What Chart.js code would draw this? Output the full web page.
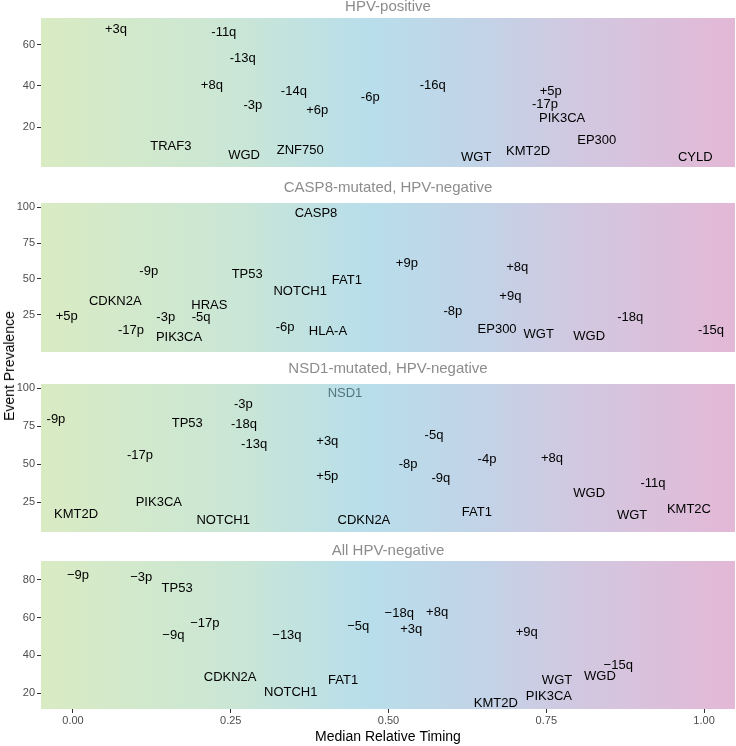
<!DOCTYPE html>
<html>
<head>
<meta charset="utf-8">
<script src="https://cdn.jsdelivr.net/npm/chart.js@4.4.1/dist/chart.umd.min.js"></script>
<style>
  body { margin: 0; background: #fff; }
  #wrap { position: relative; width: 736px; height: 746px; overflow: hidden; font-family: "Liberation Sans", Arial, sans-serif; }
  .panel { position: absolute; left: 0; }
  #ylab { position: absolute; left: 9px; top: 366px; transform: translate(-50%, -50%) rotate(-90deg); font-size: 14px; color: #000; white-space: nowrap; }
</style>
</head>
<body>
<div id="wrap">
  <canvas class="panel" id="p1" width="736" height="168" style="top:-1px"></canvas>
  <canvas class="panel" id="p2" width="736" height="172" style="top:180px"></canvas>
  <canvas class="panel" id="p3" width="736" height="171" style="top:361px"></canvas>
  <canvas class="panel" id="p4" width="736" height="203" style="top:543px"></canvas>
  <div id="ylab">Event Prevalence</div>
</div>
<script>
// panel titles
const panelTitles = ["HPV-positive", "CASP8-mutated, HPV-negative", "NSD1-mutated, HPV-negative", "All HPV-negative"];

// HPV-positive
const hpvPosEvents = ["+3q", "-11q", "-13q", "+8q", "-3p", "-14q", "+6p", "-6p", "TRAF3", "WGD", "ZNF750",
  "-16q", "+5p", "-17p", "PIK3CA", "EP300", "KMT2D", "WGT", "CYLD"];
const hpvPosTiming = [0.068, 0.239, 0.269, 0.220, 0.285, 0.350, 0.387, 0.471, 0.155, 0.271, 0.360,
  0.570, 0.757, 0.748, 0.775, 0.830, 0.721, 0.639, 0.986];
const hpvPosPrev = [67.6, 65.7, 53.1, 40.5, 30.8, 37.6, 28.1, 34.7, 10.9, 6.3, 8.7,
  40.5, 37.6, 31.3, 24.5, 13.8, 8.5, 5.5, 5.5];

// CASP8-mutated, HPV-negative
const casp8Events = ["CASP8", "-9p", "TP53", "NOTCH1", "FAT1", "CDKN2A", "HRAS", "+5p", "-3p", "-5q", "-17p",
  "PIK3CA", "-6p", "HLA-A", "+9p", "+8q", "+9q", "-8p", "EP300", "WGT", "WGD", "-18q", "-15q"];
const casp8Timing = [0.385, 0.120, 0.276, 0.360, 0.434, 0.067, 0.216, -0.010, 0.147, 0.203, 0.092,
  0.168, 0.336, 0.404, 0.529, 0.704, 0.693, 0.602, 0.672, 0.738, 0.818, 0.883, 1.011];
const casp8Prev = [96.0, 55.5, 53.4, 41.6, 49.2, 34.6, 31.8, 24.1, 23.4, 23.4, 14.3,
  9.4, 16.4, 13.6, 61.1, 58.3, 38.0, 27.6, 15.0, 11.5, 10.1, 23.4, 14.3];

// NSD1-mutated, HPV-negative
const nsd1Events = ["NSD1", "-3p", "-9p", "TP53", "-18q", "-13q", "+3q", "-17p", "+5p", "PIK3CA", "KMT2D",
  "NOTCH1", "CDKN2A", "-5q", "-8p", "-9q", "-4p", "+8q", "FAT1", "WGD", "-11q", "WGT", "KMT2C"];
const nsd1Timing = [0.431, 0.270, -0.027, 0.181, 0.271, 0.287, 0.403, 0.106, 0.403, 0.136, 0.005,
  0.238, 0.461, 0.572, 0.531, 0.583, 0.656, 0.759, 0.640, 0.818, 0.919, 0.886, 0.976];
const nsd1Prev = [96.3, 89.7, 79.8, 77.2, 76.5, 63.4, 65.3, 56.1, 42.3, 25.2, 17.3,
  13.4, 13.4, 69.3, 50.2, 41.0, 53.3, 54.0, 18.6, 31.1, 37.7, 16.6, 20.6];

// All HPV-negative
const allNegEvents = ["\u22129p", "\u22123p", "TP53", "\u221217p", "\u22129q", "\u221213q", "\u22125q", "CDKN2A", "NOTCH1", "FAT1",
  "\u221218q", "+8q", "+3q", "+9q", "\u221215q", "WGD", "WGT", "PIK3CA", "KMT2D"];
const allNegTiming = [0.008, 0.108, 0.165, 0.209, 0.159, 0.339, 0.452, 0.249, 0.345, 0.428,
  0.517, 0.577, 0.536, 0.719, 0.864, 0.835, 0.767, 0.754, 0.670];
const allNegPrev = [82.3, 81.2, 75.4, 57.0, 50.7, 50.7, 55.4, 28.5, 20.6, 26.9,
  62.3, 62.8, 53.8, 52.2, 34.9, 29.1, 26.9, 18.5, 14.9];

// axes
const xTicks = [0, 0.25, 0.5, 0.75, 1];
const xRange = [-0.0507, 1.049];
const hpvPosYTicks = [20, 40, 60];
const casp8YTicks = [25, 50, 75, 100];
const nsd1YTicks = [25, 50, 75, 100];
const allNegYTicks = [20, 40, 60, 80];
const yRanges = [[0.8, 72.9], [-1.0, 103.0], [5.5, 102.8], [11.7, 89.8]];

const FONT = '"Liberation Sans", Arial, Helvetica, sans-serif';

const gradientBg = {
  id: 'gradientBg',
  beforeDatasetsDraw(chart) {
    const { ctx, chartArea: a } = chart;
    const g = ctx.createLinearGradient(a.left, 0, a.right, 0);
    g.addColorStop(0, '#d9ebc3');
    g.addColorStop(0.28, '#cae6d5');
    g.addColorStop(0.47, '#b8deeb');
    g.addColorStop(0.62, '#c1d4e8');
    g.addColorStop(0.8, '#d4c6df');
    g.addColorStop(1, '#e3b8d6');
    ctx.save();
    ctx.fillStyle = g;
    ctx.fillRect(a.left, a.top, a.right - a.left, a.bottom - a.top);
    ctx.restore();
  }
};

const textLabels = {
  id: 'textLabels',
  afterDatasetsDraw(chart) {
    const ctx = chart.ctx;
    const ds = chart.data.datasets[0];
    const meta = chart.getDatasetMeta(0);
    ctx.save();
    ctx.font = '13px ' + FONT;
    ctx.textAlign = 'center';
    ctx.textBaseline = 'middle';
    meta.data.forEach((pt, i) => {
      ctx.fillStyle = ds.names[i] === ds.highlight ? '#52767e' : '#000';
      ctx.fillText(ds.names[i], pt.x, pt.y);
    });
    ctx.restore();
  }
};

function makePanel(id, title, titlePad, names, timing, prev, yTicks, yRange, showX, highlight) {
  const xScale = {
    type: 'linear',
    min: xRange[0],
    max: xRange[1],
    display: showX,
    afterBuildTicks: s => { s.ticks = xTicks.map(v => ({ value: v })); },
    afterFit: s => { s.height = showX ? 37 : 0; s.paddingLeft = 0; s.paddingRight = 0; },
    grid: { drawOnChartArea: false, drawTicks: true, tickLength: 4, tickColor: '#333' },
    border: { display: false },
    ticks: { color: '#4d4d4d', font: { size: 11, family: FONT }, padding: 1, maxRotation: 0,
      callback: v => v.toFixed(2) },
    title: { display: true, text: 'Median Relative Timing', color: '#000',
      font: { size: 14, family: FONT }, padding: { top: 0, bottom: 0 } }
  };
  return new Chart(document.getElementById(id), {
    type: 'scatter',
    data: {
      datasets: [{
        data: timing.map((t, i) => ({ x: t, y: prev[i] })),
        names: names,
        highlight: highlight,
        pointRadius: 0,
        pointHoverRadius: 0
      }]
    },
    options: {
      responsive: false,
      animation: false,
      events: [],
      layout: { padding: { left: 0, right: 1, top: 0, bottom: 0 } },
      plugins: {
        legend: { display: false },
        tooltip: { enabled: false },
        title: {
          display: true, text: title, fullSize: false, color: '#8c8c8c',
          font: { size: 15, family: FONT, weight: 'normal', lineHeight: 1 },
          padding: { top: 0, bottom: titlePad }
        }
      },
      scales: {
        x: xScale,
        y: {
          type: 'linear',
          min: yRange[0],
          max: yRange[1],
          afterBuildTicks: s => { s.ticks = yTicks.map(v => ({ value: v })); },
          afterFit: s => { s.width = 41; s.paddingTop = 0; s.paddingBottom = 0; },
          grid: { drawOnChartArea: false, drawTicks: true, tickLength: 4, tickColor: '#333' },
          border: { display: false },
          ticks: { color: '#4d4d4d', font: { size: 11, family: FONT }, padding: 2 }
        }
      }
    },
    plugins: [gradientBg, textLabels]
  });
}

makePanel('p1', panelTitles[0], 4, hpvPosEvents, hpvPosTiming, hpvPosPrev, hpvPosYTicks, yRanges[0], false);
makePanel('p2', panelTitles[1], 8, casp8Events, casp8Timing, casp8Prev, casp8YTicks, yRanges[1], false);
makePanel('p3', panelTitles[2], 8, nsd1Events, nsd1Timing, nsd1Prev, nsd1YTicks, yRanges[2], false, 'NSD1');
makePanel('p4', panelTitles[3], 3, allNegEvents, allNegTiming, allNegPrev, allNegYTicks, yRanges[3], true);
</script>
</body>
</html>
